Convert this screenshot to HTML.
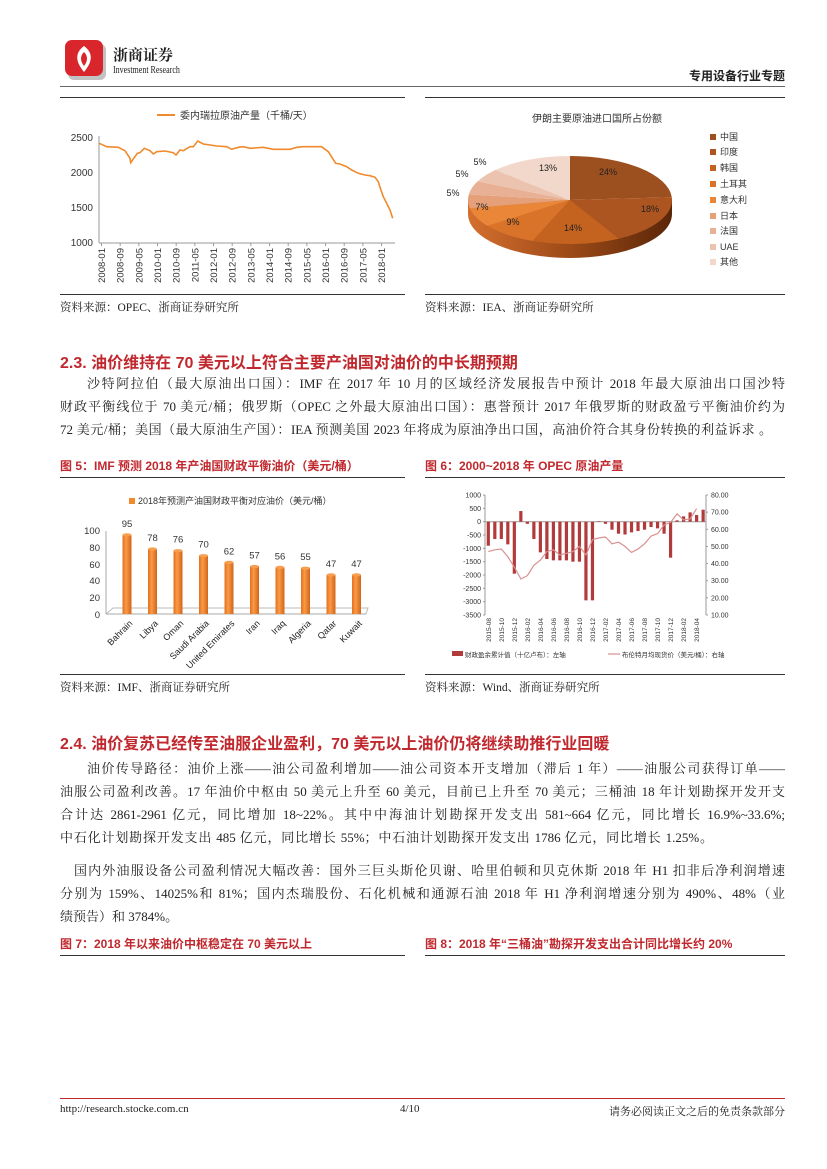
<!DOCTYPE html>
<html><head><meta charset="utf-8">
<style>
body{margin:0;background:#fff;}
#pg{position:relative;width:827px;height:1169px;overflow:hidden;background:#fff;font-family:"Liberation Serif","Noto Serif CJK SC",serif;color:#222;}
.a{position:absolute;white-space:nowrap;}
.ln{position:absolute;left:60px;width:725px;font-size:13px;line-height:18px;text-align:justify;text-align-last:justify;white-space:nowrap;}
.h{position:absolute;left:60px;font-family:"Liberation Sans","Noto Sans CJK SC",sans-serif;font-weight:bold;font-size:16px;color:#c0282e;white-space:nowrap;}
.cap{position:absolute;font-family:"Liberation Sans","Noto Sans CJK SC",sans-serif;font-weight:bold;font-size:12px;color:#c0282e;white-space:nowrap;}
.src{position:absolute;font-size:11.5px;white-space:nowrap;}
.hr{position:absolute;height:1px;background:#333;}
svg text{font-family:"Liberation Sans","Noto Sans CJK SC",sans-serif;}
</style></head><body><div id="pg">
<svg class="a" style="left:64px;top:38px" width="44" height="44" viewBox="0 0 44 44">
<rect x="4" y="6" width="38" height="36" rx="6" fill="#999" opacity="0.6"/>
<rect x="1" y="2" width="38" height="36" rx="7" fill="#d8262c"/>
<path d="M20 8 C12 14 10 22 20 34 C30 22 28 14 20 8 Z" fill="#fff"/>
<path d="M20 14 C16 18 16 23 20 28 C24 23 24 18 20 14 Z" fill="#d8262c"/>
</svg>
<div class="a" style="left:113px;top:44px;font-size:15px;font-weight:bold;font-family:'Noto Serif CJK SC',serif;">浙商证券</div>
<div class="a" style="left:113px;top:65px;font-size:10px;font-family:'Liberation Serif',serif;transform:scaleX(0.8);transform-origin:left;">Investment Research</div>
<div class="a" style="right:42px;top:67px;font-size:12px;font-weight:bold;font-family:'Noto Sans CJK SC',sans-serif;">专用设备行业专题</div>
<div class="hr" style="left:60px;top:86px;width:725px;background:#666;"></div>
<div class="hr" style="left:60px;top:97px;width:345px;"></div>
<div class="hr" style="left:425px;top:97px;width:360px;"></div>

<svg class="a" style="left:0;top:0" width="827" height="1169">
<line x1="157" y1="115" x2="175" y2="115" stroke="#f08a2c" stroke-width="2"/>
<text x="180" y="119" font-size="10" fill="#333">委内瑞拉原油产量（千桶/天）</text>
<g font-size="10" fill="#333" text-anchor="end">
<text x="93" y="141">2500</text><text x="93" y="176">2000</text><text x="93" y="211">1500</text><text x="93" y="246">1000</text></g>
<line x1="99" y1="136" x2="99" y2="243" stroke="#999"/>
<line x1="99" y1="243" x2="395" y2="243" stroke="#999"/>
<polyline fill="none" stroke="#f08a2c" stroke-width="1.6" points="99.3,143.3 106.7,146.7 118.3,147.3 125,150.7 130,158.3 130.7,162.7 137.3,153.3 140,152.7 144.3,148.3 150,150.7 153.3,154 156.7,151.7 165,151 173.3,152.7 176,155 180,150 183.3,150.7 190,146.7 193.3,146.7 197.7,141 203.3,144 216.7,146 226.7,146.7 231.7,149.3 238.3,147.3 243.3,146.7 250,148.3 263.3,147.3 273.3,149.3 290,149.3 296.7,147.3 303.3,146.7 313.3,146.7 321.7,146.7 325,149.3 328.3,151.7 335.7,163.3 340,164 346.7,166.7 351.7,170 358.3,173.3 365,175 370,175.7 375,177.3 378.3,181.7 380.7,189.3 383.3,196.7 386.7,203.3 390,210 392.7,218.3"/>
<g id="xl1" font-size="9.5" fill="#333"></g>
<text x="597" y="122" font-size="10" fill="#333" text-anchor="middle">伊朗主要原油进口国所占份额</text>
<defs><linearGradient id="sd" x1="0" x2="1"><stop offset="0" stop-color="#d46f2e"/><stop offset="0.5" stop-color="#9c4a18"/><stop offset="1" stop-color="#5a2608"/></linearGradient>
<linearGradient id="bg" x1="0" x2="1"><stop offset="0" stop-color="#e0701f"/><stop offset="0.4" stop-color="#fb9a45"/><stop offset="1" stop-color="#d0651a"/></linearGradient></defs>
<path d="M468,200 L468,214 A102,44 0 0 0 672,214 L672,200 Z" fill="url(#sd)"/>
<path d="M570,200 L570,156 A102,44 0 0 1 671.8,197.2 Z" fill="#9c4f1f"/>
<path d="M570,200 L671.8,197.2 A102,44 0 0 1 619.1,238.6 Z" fill="#ad5520"/>
<path d="M570,200 L619.1,238.6 A102,44 0 0 1 532.5,240.9 Z" fill="#c4631f"/>
<path d="M570,200 L532.5,240.9 A102,44 0 0 1 487.5,225.9 Z" fill="#d9732a"/>
<path d="M570,200 L487.5,225.9 A102,44 0 0 1 469.8,208.2 Z" fill="#ea8638"/>
<path d="M570,200 L469.8,208.2 A102,44 0 0 1 468.8,194.5 Z" fill="#e5a07a"/>
<path d="M570,200 L468.8,194.5 A102,44 0 0 1 477.7,181.3 Z" fill="#e8b195"/>
<path d="M570,200 L477.7,181.3 A102,44 0 0 1 495.6,169.9 Z" fill="#ecc3ae"/>
<path d="M570,200 L495.6,169.9 A102,44 0 0 1 570,156 Z" fill="#f2d8cb"/>
<g font-size="9" fill="#222" text-anchor="middle">
<text x="608" y="175">24%</text><text x="650" y="212">18%</text><text x="573" y="231">14%</text><text x="513" y="225">9%</text><text x="482" y="210">7%</text><text x="453" y="196">5%</text><text x="462" y="177">5%</text><text x="480" y="165">5%</text><text x="548" y="171">13%</text></g>
<g id="pl" font-size="9" fill="#333"></g>
<rect x="129" y="498" width="6" height="6" fill="#f08a2c"/>
<text x="138" y="504" font-size="9" fill="#333">2018年预测产油国财政平衡对应油价（美元/桶）</text>
<g font-size="9.5" fill="#333" text-anchor="end">
<text x="100" y="534">100</text><text x="100" y="551">80</text><text x="100" y="568">60</text><text x="100" y="584">40</text><text x="100" y="601">20</text><text x="100" y="618">0</text></g>
<line x1="106" y1="531" x2="106" y2="614" stroke="#aaa"/>
<polyline points="106,614 113,608 368,608 366,614" fill="none" stroke="#bbb"/>
<line x1="106" y1="614" x2="366" y2="614" stroke="#aaa"/>
<g id="bars"></g>
<g id="rc"></g>
<rect x="452" y="651" width="11" height="5" fill="#b33a3a"/>
<text x="465" y="657" font-size="6.5" fill="#333">财政盈余累计值（十亿卢布）：左轴</text>
<line x1="608" y1="654" x2="620" y2="654" stroke="#d99090" stroke-width="1.2"/>
<text x="622" y="657" font-size="6.5" fill="#333">布伦特月均现货价（美元/桶）：右轴</text>
</svg>

<div class="hr" style="left:60px;top:294px;width:345px;"></div>
<div class="hr" style="left:425px;top:294px;width:360px;"></div>
<div class="src" style="left:60px;top:299px;">资料来源：OPEC、浙商证券研究所</div>
<div class="src" style="left:425px;top:299px;">资料来源：IEA、浙商证券研究所</div>

<div class="h" style="top:349px;">2.3. 油价维持在 70 美元以上符合主要产油国对油价的中长期预期</div>
<div class="ln" style="top:375px;left:87px;width:698px;">沙特阿拉伯（最大原油出口国）：IMF 在 2017 年 10 月的区域经济发展报告中预计 2018 年最大原油出口国沙特</div>
<div class="ln" style="top:398px;">财政平衡线位于 70 美元/桶；俄罗斯（OPEC 之外最大原油出口国）：惠誉预计 2017 年俄罗斯的财政盈亏平衡油价约为</div>
<div class="ln" style="top:421px;width:712px;">72 美元/桶；美国（最大原油生产国）：IEA 预测美国 2023 年将成为原油净出口国，高油价符合其身份转换的利益诉求 。</div>

<div class="cap" style="left:60px;top:457px;">图 5：IMF 预测 2018 年产油国财政平衡油价（美元/桶）</div>
<div class="cap" style="left:425px;top:457px;">图 6：2000~2018 年 OPEC 原油产量</div>
<div class="hr" style="left:60px;top:477px;width:345px;"></div>
<div class="hr" style="left:425px;top:477px;width:360px;"></div>
<div class="hr" style="left:60px;top:674px;width:345px;"></div>
<div class="hr" style="left:425px;top:674px;width:360px;"></div>
<div class="src" style="left:60px;top:679px;">资料来源：IMF、浙商证券研究所</div>
<div class="src" style="left:425px;top:679px;">资料来源：Wind、浙商证券研究所</div>

<div class="h" style="top:730px;">2.4. 油价复苏已经传至油服企业盈利，70 美元以上油价仍将继续助推行业回暖</div>
<div class="ln" style="top:760px;left:87px;width:698px;">油价传导路径：油价上涨——油公司盈利增加——油公司资本开支增加（滞后 1 年）——油服公司获得订单——</div>
<div class="ln" style="top:783px;">油服公司盈利改善。17 年油价中枢由 50 美元上升至 60 美元，目前已上升至 70 美元；三桶油 18 年计划勘探开发开支</div>
<div class="ln" style="top:806px;">合计达 2861-2961 亿元，同比增加 18~22%。其中中海油计划勘探开发支出 581~664 亿元，同比增长 16.9%~33.6%;</div>
<div class="ln" style="top:829px;width:653px;">中石化计划勘探开发支出 485 亿元，同比增长 55%；中石油计划勘探开发支出 1786 亿元，同比增长 1.25%。</div>
<div class="ln" style="top:862px;left:74px;width:711px;">国内外油服设备公司盈利情况大幅改善：国外三巨头斯伦贝谢、哈里伯顿和贝克休斯 2018 年 H1 扣非后净利润增速</div>
<div class="ln" style="top:885px;">分别为 159%、14025%和 81%；国内杰瑞股份、石化机械和通源石油 2018 年 H1 净利润增速分别为 490%、48%（业</div>
<div class="ln" style="top:908px;text-align-last:left;">绩预告）和 3784%。</div>

<div class="cap" style="left:60px;top:935px;">图 7：2018 年以来油价中枢稳定在 70 美元以上</div>
<div class="cap" style="left:425px;top:935px;">图 8：2018 年“三桶油”勘探开发支出合计同比增长约 20%</div>
<div class="hr" style="left:60px;top:955px;width:345px;"></div>
<div class="hr" style="left:425px;top:955px;width:360px;"></div>

<div class="hr" style="left:60px;top:1098px;width:725px;background:#c0282e;"></div>
<div class="a" style="left:60px;top:1103px;font-size:11px;">http://research.stocke.com.cn</div>
<div class="a" style="left:400px;top:1103px;font-size:11px;">4/10</div>
<div class="a" style="right:42px;top:1103px;font-size:11px;">请务必阅读正文之后的免责条款部分</div>
</div>
<script>
(function(){
var NS="http://www.w3.org/2000/svg";
function el(p,t,a,tx){var e=document.createElementNS(NS,t);for(var k in a)e.setAttribute(k,a[k]);if(tx!=null)e.textContent=String(tx);p.appendChild(e);return e;}
var g=document.getElementById('xl1');
for(var i=0;i<16;i++){var x=102+i*18.67;var yr=2008+Math.floor(i*8/12);var mo=(i*8)%12+1;
var s=yr+'-'+(mo<10?'0':'')+mo;el(g,'line',{x1:x-0.5,y1:243,x2:x-0.5,y2:246,stroke:'#999'});
el(g,'text',{x:x+3,y:248,transform:'rotate(-90 '+(x+3)+' 248)','text-anchor':'end'},s);}
var pl=document.getElementById('pl');var names=['中国','印度','韩国','土耳其','意大利','日本','法国','UAE','其他'];
var cols=['#9c4f1f','#ad5520','#c4631f','#d9732a','#ea8638','#e5a07a','#e8b195','#ecc3ae','#f2d8cb'];
var ys=[137,152,168,184,200,216,231,247,262];
for(var i=0;i<9;i++){el(pl,'rect',{x:710,y:ys[i]-3,width:6,height:6,fill:cols[i]});el(pl,'text',{x:720,y:ys[i]+3},names[i]);}
var b=document.getElementById('bars');
var nm=['Bahrain','Libya','Oman','Saudi Arabia','United Emirates','Iran','Iraq','Algeria','Qatar','Kuwait'];
var vv=[95,78,76,70,62,57,56,55,47,47];
for(var i=0;i<10;i++){var cx=127+i*25.5;var tp=614-vv[i]*0.833;
el(b,'rect',{x:cx-4.5,y:tp,width:9,height:614-tp,fill:'url(#bg)'});
el(b,'ellipse',{cx:cx,cy:tp,rx:4.5,ry:1.6,fill:'#f6a050'});
el(b,'text',{x:cx,y:tp-8,'font-size':9.5,fill:'#333','text-anchor':'middle'},vv[i]);
el(b,'text',{x:cx+6,y:624,'font-size':9,fill:'#222','text-anchor':'end',transform:'rotate(-45 '+(cx+6)+' 624)'},nm[i]);}
var r=document.getElementById('rc');
var y0=521.7,pl5=13.33/500;
for(var v=1000;v>=-3500;v-=500){var y=y0-v*pl5;el(r,'text',{x:481,y:y+2.5,'font-size':7,fill:'#333','text-anchor':'end'},v);
el(r,'line',{x1:483,y1:y,x2:485,y2:y,stroke:'#999'});}
el(r,'line',{x1:485,y1:495,x2:485,y2:615,stroke:'#999'});
el(r,'line',{x1:485,y1:y0,x2:706,y2:y0,stroke:'#999'});
el(r,'line',{x1:706,y1:495,x2:706,y2:615,stroke:'#999'});
for(var v=80;v>=10;v-=10){var y=495+(80-v)*1.714;el(r,'text',{x:711,y:y+2.5,'font-size':7,fill:'#333'},v.toFixed(2));
el(r,'line',{x1:706,y1:y,x2:708,y2:y,stroke:'#999'});}
var bv=[-900,-650,-650,-850,-1950,400,-80,-650,-1150,-1400,-1450,-1450,-1450,-1500,-1500,-2950,-2950,20,-80,-300,-450,-480,-400,-350,-300,-200,-250,-450,-1350,50,200,350,250,450];
var lv=[47,48,48.5,44,38,31,33,39,42,47,48,45,46,47,50,45,54,55,55.5,51.5,52.5,50,46.5,48.5,51.5,56,57.5,62.5,64,69,65.5,66,72];
var pts=[];
for(var i=0;i<bv.length;i++){var x=488.3+i*6.51;var y=y0-bv[i]*pl5;
el(r,'rect',{x:x-1.6,y:Math.min(y,y0),width:3.2,height:Math.abs(y-y0),fill:'#b33a3a'});
if(i<lv.length)pts.push(x.toFixed(1)+','+(495+(80-lv[i])*1.714).toFixed(1));
if(i%2==0&&i<33){var yr=2015+Math.floor((7+i)/12),mo=(7+i)%12+1;var s=yr+'-'+(mo<10?'0':'')+mo;
el(r,'text',{x:x+2.5,y:618,'font-size':6.5,fill:'#333','text-anchor':'end',transform:'rotate(-90 '+(x+2.5)+' 618)'},s);}}
el(r,'polyline',{points:pts.join(' '),fill:'none',stroke:'#d99090','stroke-width':1.2});
})();
</script>
</body></html>
